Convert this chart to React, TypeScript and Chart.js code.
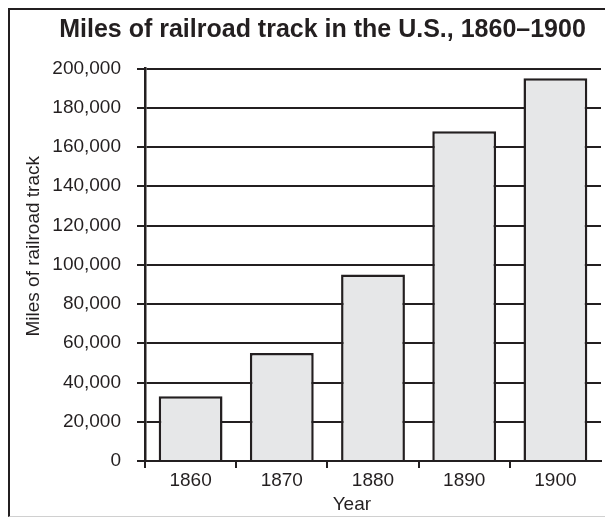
import { useEffect, useRef } from 'react';
import { Chart, registerables } from 'chart.js';

Chart.register(...registerables);

const years = ['1860', '1870', '1880', '1890', '1900'];
const miles = [33000, 55000, 95000, 168000, 195000];
const yMin = 0;
const yMax = 200000;
const yStep = 20000;
const chartTitle = 'Miles of railroad track in the U.S., 1860–1900';
const xTitle = 'Year';
const yTitle = 'Miles of railroad track';

const INK = '#231f20';
const FONT = "'Liberation Sans', Arial, Helvetica, sans-serif";

export default function App() {
  const ref = useRef<HTMLCanvasElement>(null);

  useEffect(() => {
    if (!ref.current) return;
    const chart = new Chart(ref.current, {
      type: 'bar',
      data: {
        labels: years,
        datasets: [
          {
            data: miles,
            backgroundColor: '#e6e7e8',
            borderColor: INK,
            borderWidth: 2.5,
            barPercentage: 0.7,
            categoryPercentage: 1,
          },
        ],
      },
      options: {
        responsive: false,
        animation: false,
        layout: { padding: 0 },
        plugins: {
          legend: { display: false },
          tooltip: { enabled: false },
          title: {
            display: true,
            text: chartTitle,
            color: INK,
            font: { family: FONT, size: 25, weight: 'bold' },
            padding: { top: 5, bottom: 23.5 },
          },
        },
        scales: {
          x: {
            z: 1,
            grid: {
              display: true,
              drawOnChartArea: false,
              drawTicks: true,
              tickLength: 7,
              lineWidth: 2,
              color: (ctx: any) => (ctx.index === undefined ? 'rgba(0,0,0,0)' : INK),
            },
            border: { display: true, color: INK, width: 2 },
            ticks: { color: INK, font: { family: FONT, size: 19 }, padding: 1 },
            title: {
              display: true,
              text: xTitle + ' '.repeat(8),
              color: INK,
              font: { family: FONT, size: 19 },
              padding: { top: 0, bottom: 0 },
            },
            afterFit: (s: any) => {
              s.height = 55;
            },
          },
          y: {
            min: yMin,
            max: yMax,
            grid: { color: INK, lineWidth: 2, tickLength: 8, drawTicks: true },
            border: { display: true, color: INK, width: 2.5 },
            ticks: {
              stepSize: yStep,
              color: INK,
              padding: 16,
              font: { family: FONT, size: 19 },
              callback: (v: any) => Number(v).toLocaleString('en-US'),
            },
            title: {
              display: true,
              text: ' '.repeat(7) + yTitle,
              color: INK,
              font: { family: FONT, size: 19 },
              padding: { top: 12.5, bottom: 0 },
            },
            afterFit: (s: any) => {
              s.width = 135;
            },
          },
          y2: {
            type: 'linear',
            position: 'right',
            display: true,
            grid: { display: false, drawOnChartArea: false, drawTicks: false },
            border: { display: false },
            ticks: { display: false },
            afterFit: (s: any) => {
              s.width = 34;
            },
          },
        },
      },
    });
    return () => chart.destroy();
  }, []);

  return (
    <>
      <div
        style={{
          position: 'fixed',
          left: 8,
          top: 8,
          width: 700,
          height: 509,
          boxSizing: 'border-box',
          borderTop: `2px solid ${INK}`,
          borderLeft: `2px solid ${INK}`,
          borderBottom: '1px solid #d0d0d0',
        }}
      />
      <canvas ref={ref} width={625} height={506} style={{ position: 'fixed', left: 10, top: 10 }} />
    </>
  );
}
